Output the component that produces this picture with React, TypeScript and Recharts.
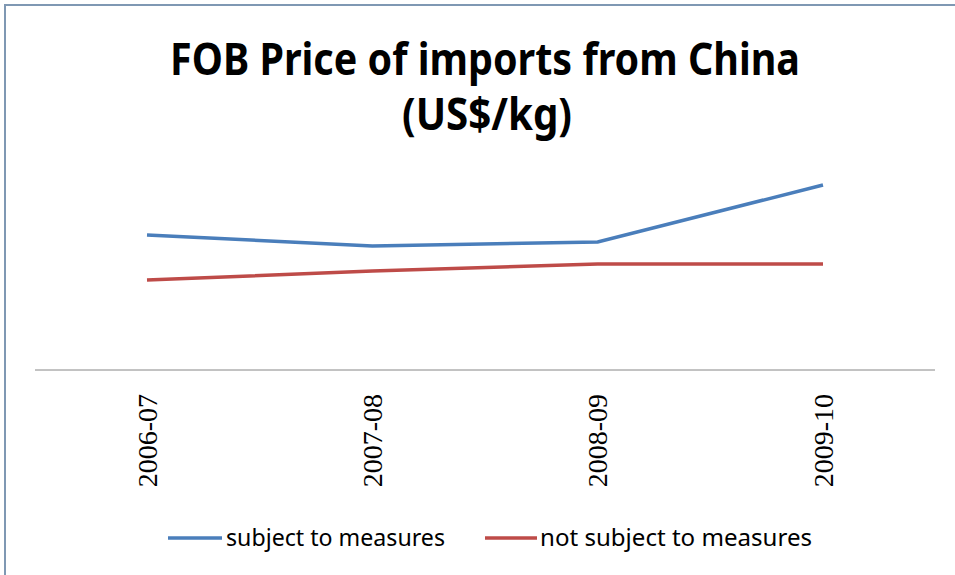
import { LineChart, Line, XAxis, YAxis } from "recharts"

const categories = ["2006-07", "2007-08", "2008-09", "2009-10"]
const subjectValues = [2.7, 2.48, 2.56, 3.7]
const notSubjectValues = [1.8, 1.98, 2.12, 2.12]
const seriesNames = ["subject to measures", "not subject to measures"]
const seriesColors = ["#4a7ebb", "#be4b48"]
const titleLines = ["FOB Price of imports from China", "(US$/kg)"]

const data = categories.map((period, i) => ({
  period,
  subject: subjectValues[i],
  notSubject: notSubjectValues[i],
}))

const sans = "'Noto Sans', 'Open Sans', sans-serif"
const serif = "'Times New Roman', 'Liberation Serif', 'DejaVu Serif', serif"

function PeriodTick({ x, y, payload }: any) {
  const ty = y + 16
  return (
    <text
      x={x}
      y={ty}
      transform={`rotate(-90 ${x} ${ty})`}
      textAnchor="end"
      dy="0.35em"
      fontFamily={serif}
      fontSize={28}
      fill="#000"
    >
      {payload.value}
    </text>
  )
}

export default function App() {
  return (
    <div style={{ position: "absolute", left: 0, top: 0, width: 955, height: 575, background: "#fff" }}>
      {/* chart frame: only top and left edges show in the source */}
      <div
        style={{
          position: "absolute",
          left: 4,
          top: 4,
          width: 951,
          height: 571,
          borderTop: "2px solid #7f98b3",
          borderLeft: "2px solid #7f98b3",
          boxSizing: "border-box",
        }}
      />
      <svg width={955} height={575} style={{ position: "absolute", left: 0, top: 0 }}>
        <text x={170} y={75} textLength={630} lengthAdjust="spacingAndGlyphs" fontFamily={sans} fontWeight="bold" fontSize={44} fill="#000">
          {titleLines[0]}
        </text>
        <text x={402} y={130} textLength={170} lengthAdjust="spacingAndGlyphs" fontFamily={sans} fontWeight="bold" fontSize={44} fill="#000">
          {titleLines[1]}
        </text>
        <line x1={168} x2={222} y1={538} y2={538} stroke={seriesColors[0]} strokeWidth={3.5} />
        <text x={226} y={546} textLength={219} lengthAdjust="spacingAndGlyphs" fontFamily={sans} fontSize={23} fill="#000">
          {seriesNames[0]}
        </text>
        <line x1={485} x2={537} y1={538} y2={538} stroke={seriesColors[1]} strokeWidth={3.5} />
        <text x={540} y={546} textLength={272} lengthAdjust="spacingAndGlyphs" fontFamily={sans} fontSize={23} fill="#000">
          {seriesNames[1]}
        </text>
      </svg>
      <div style={{ position: "absolute", left: 0, top: 0 }}>
        <LineChart width={955} height={575} data={data} margin={{ top: 170, right: 20, left: 35, bottom: 55 }}>
          <XAxis
            dataKey="period"
            height={150}
            interval={0}
            padding={{ left: 112, right: 112 }}
            axisLine={{ stroke: "#868686", strokeWidth: 1 }}
            tickLine={false}
            tick={<PeriodTick />}
          />
          <YAxis hide width={0} domain={[0, 4]} />
          <Line dataKey="subject" name={seriesNames[0]} stroke={seriesColors[0]} strokeWidth={3.5} dot={false} isAnimationActive={false} />
          <Line dataKey="notSubject" name={seriesNames[1]} stroke={seriesColors[1]} strokeWidth={3.5} dot={false} isAnimationActive={false} />
        </LineChart>
      </div>
    </div>
  )
}
